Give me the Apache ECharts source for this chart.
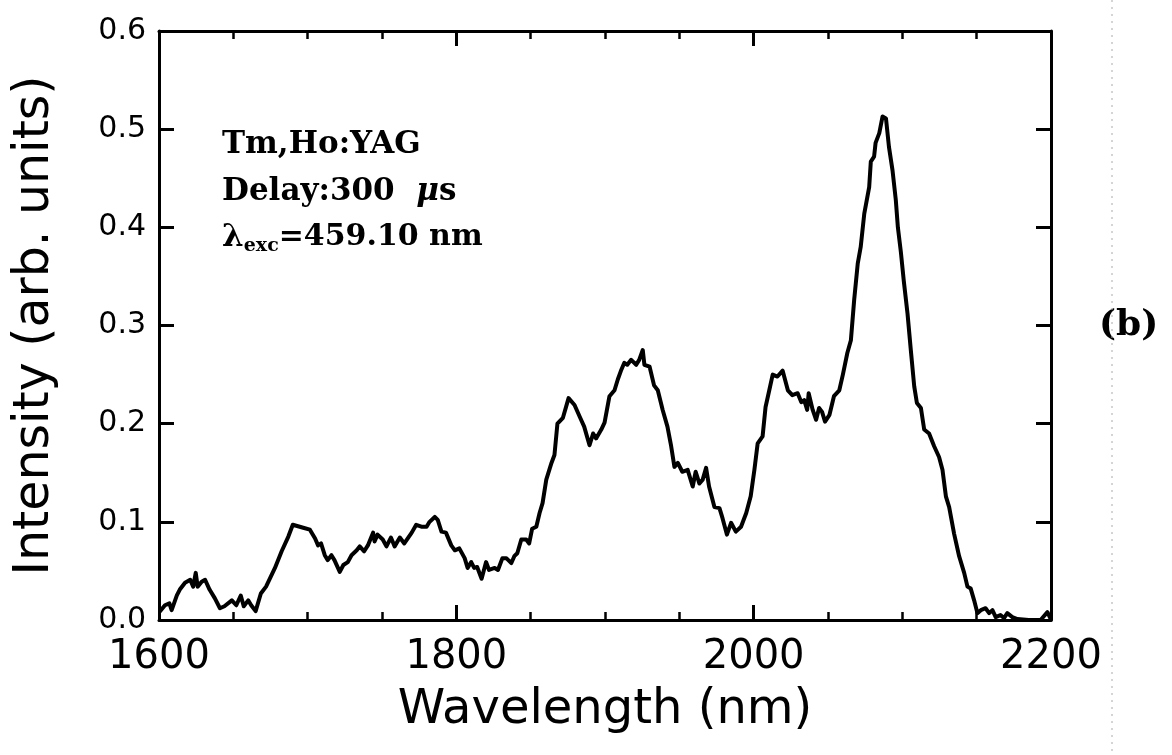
<!DOCTYPE html>
<html>
<head>
<meta charset="utf-8">
<script src="https://cdn.jsdelivr.net/npm/echarts@6/dist/echarts.min.js"></script>
<style>
  html, body { margin: 0; padding: 0; background: #fff; }
  #chart { width: 1172px; height: 755px; }
</style>
</head>
<body>
<div id="chart"></div>
<script>
// Wavelength (nm) samples
const wavelength = [
  1600.7,1604,1607,1608.5,1612,1614,1617.5,1621,1623,1624.7,1626,1628.7,1631,1634,1637.6,1641,1644,1649,1652,1655,1657,1660,1662,1665,1668.5,1672,1678,1682.5,1687,1690,
  1697,1701.5,1705,1707,1709,1711.5,1713.5,1716,1718,1721.6,1724,1727,1729.5,1733,1735,1738,1740.5,1744,1745,1747,1750.5,1753,1756,1758.5,1762,1765,1770,1773,1776.5,1780,
  1782,1785.5,1787.5,1790,1793,1796.6,1799,1802,1805.6,1807.6,1810,1812,1814,1817,1820,1822,1825.8,1828,1831,1833.6,1837,1839,1841,1843.7,1847,1849,1851,1853.8,1856,1858,
  1860.5,1864,1866,1868,1871.7,1875.5,1879.5,1883,1886,1889.6,1892,1894,1897.5,1899.7,1903,1906.4,1908.6,1911,1913,1915,1917.6,1921,1923,1925.4,1926.5,1930,1933,1935.5,
  1938.8,1942,1944.5,1946.7,1949,1952,1955.6,1959,1961,1963.5,1965.7,1968,1970,1973.6,1977,1979,1982,1984.8,1988,1991.5,1995,1998,2000.5,2002.7,2006,2008,2010.5,2012.8,
  2016,2019.5,2023,2026,2029.6,2032,2034,2036,2037,2039.7,2042,2044,2046,2048,2051,2054,2057.6,2060,2063,2065.4,2067.6,2070,2072,2074.4,2077.7,2078.8,2081,2082,2084.5,2086.7,
  2089,2091,2093.4,2095.6,2097,2099,2101,2103.5,2105.7,2108,2109.8,2112.5,2114.7,2118,2121.4,2124.7,2127,2129.3,2131.5,2134.8,2138.2,2141.6,2143.8,2146,2148.3,2150.5,2152.8,2156,
  2158.4,2160.6,2162.8,2166,2168.4,2170.6,2174,2177.4,2185,2193,2197.6,2199.5
];
// Intensity (arb. units)
const intensity = [
  0.009,0.015,0.017,0.010,0.025,0.031,0.038,0.041,0.034,0.048,0.034,0.039,0.041,0.031,0.022,0.012,0.014,0.020,0.015,0.025,0.014,0.020,0.015,0.009,0.027,0.034,0.053,0.070,0.085,0.097,
  0.094,0.092,0.083,0.076,0.078,0.066,0.061,0.066,0.061,0.049,0.056,0.059,0.066,0.071,0.075,0.070,0.076,0.089,0.080,0.087,0.082,0.075,0.084,0.075,0.084,0.078,0.089,0.097,0.095,0.095,
  0.100,0.105,0.102,0.090,0.089,0.076,0.071,0.073,0.063,0.053,0.059,0.053,0.054,0.042,0.059,0.051,0.053,0.051,0.063,0.063,0.058,0.065,0.068,0.082,0.082,0.078,0.093,0.095,0.109,0.119,
  0.143,0.160,0.168,0.200,0.206,0.226,0.219,0.207,0.197,0.178,0.190,0.185,0.194,0.201,0.228,0.234,0.245,0.255,0.262,0.260,0.265,0.260,0.265,0.275,0.260,0.258,0.239,0.234,
  0.214,0.197,0.177,0.156,0.160,0.151,0.153,0.136,0.151,0.139,0.143,0.155,0.136,0.115,0.114,0.104,0.087,0.099,0.090,0.095,0.109,0.126,0.153,0.180,0.187,0.217,0.234,0.250,
  0.248,0.254,0.234,0.229,0.231,0.222,0.224,0.214,0.231,0.214,0.204,0.216,0.212,0.202,0.209,0.228,0.234,0.250,0.272,0.285,0.326,0.363,0.380,0.414,0.441,0.467,0.472,0.486,0.496,0.513,
  0.511,0.482,0.458,0.428,0.400,0.375,0.345,0.312,0.275,0.238,0.221,0.216,0.194,0.190,0.177,0.166,0.153,0.126,0.115,0.088,0.065,0.048,0.034,0.032,0.020,0.007,0.010,0.012,
  0.007,0.010,0.003,0.005,0.002,0.007,0.003,0.001,0.000,0.000,0.008,0.002
];
const xTicks = [1600, 1800, 2000, 2200];
const yTicks = [0.0, 0.1, 0.2, 0.3, 0.4, 0.5, 0.6];
const xTitle = 'Wavelength (nm)';
const yTitle = 'Intensity (arb. units)';
const annotationLines = ['Tm,Ho:YAG', 'Delay:300 ', 'exc', '=459.10 nm'];
const panelLabel = '(b)';

const chart = echarts.init(document.getElementById('chart'), null, { renderer: 'canvas' });
const pairs = wavelength.map((w, i) => [w, intensity[i]]);

const axisFont = 'DejaVu Sans';
const serif = 'DejaVu Serif';
const baseX = {
  type: 'value', min: xTicks[0], max: xTicks[xTicks.length - 1], interval: xTicks[1] - xTicks[0],
  axisLine: { show: true, onZero: false, lineStyle: { color: '#000', width: 3 } },
  axisTick: { show: true, inside: true, length: 15, lineStyle: { color: '#000', width: 3 } },
  minorTick: { show: true, splitNumber: 4, length: 8, lineStyle: { color: '#000', width: 2.5 } },
  splitLine: { show: false }
};
const baseY = {
  type: 'value', min: yTicks[0], max: yTicks[yTicks.length - 1], interval: yTicks[1] - yTicks[0],
  axisLine: { show: true, onZero: false, lineStyle: { color: '#000', width: 3 } },
  axisTick: { show: true, inside: true, length: 15, lineStyle: { color: '#000', width: 3 } },
  splitLine: { show: false }
};

chart.setOption({
  animation: false,
  backgroundColor: '#fff',
  grid: { left: 159, right: 121, top: 31, bottom: 135, containLabel: false },
  xAxis: [
    Object.assign({}, baseX, {
      position: 'bottom',
      name: xTitle, nameLocation: 'middle', nameGap: 67,
      nameTextStyle: { fontFamily: axisFont, fontSize: 48, color: '#000' },
      axisLabel: { show: true, margin: 18, fontFamily: axisFont, fontSize: 40, color: '#000',
        formatter: v => String(v) }
    }),
    Object.assign({}, baseX, { position: 'top', axisLabel: { show: false } })
  ],
  yAxis: [
    Object.assign({}, baseY, {
      position: 'left',
      name: yTitle, nameLocation: 'middle', nameGap: 99,
      nameTextStyle: { fontFamily: axisFont, fontSize: 49, color: '#000' },
      axisLabel: { show: true, margin: 13, fontFamily: axisFont, fontSize: 30, color: '#000',
        formatter: v => v.toFixed(1) }
    }),
    Object.assign({}, baseY, { position: 'right', axisLabel: { show: false } })
  ],
  series: [{
    type: 'line', data: pairs, xAxisIndex: 0, yAxisIndex: 0,
    showSymbol: false, symbol: 'none', smooth: false, clip: true,
    lineStyle: { color: '#000', width: 4, join: 'round', cap: 'round' }
  }],
  graphic: [
    { type: 'text', left: 222, top: 129, style: { text: annotationLines[0], font: 'bold 31px "' + serif + '"', fill: '#000' } },
    { type: 'text', left: 222, top: 176, style: {
        text: '{a|' + annotationLines[1] + ' }{m|μ}{a|s}',
        rich: {
          a: { fontFamily: serif, fontWeight: 'bold', fontSize: 31, color: '#000' },
          m: { fontFamily: serif, fontWeight: 'bold', fontStyle: 'italic', fontSize: 31, color: '#000' }
        } } },
    { type: 'text', left: 222, top: 222, style: {
        text: '{l|λ}{s|' + annotationLines[2] + '}{a|' + annotationLines[3] + '}',
        rich: {
          l: { fontFamily: serif, fontWeight: 'bold', fontSize: 31, color: '#000' },
          s: { fontFamily: serif, fontWeight: 'bold', fontSize: 19, color: '#000', padding: [18, 0, 0, 0] },
          a: { fontFamily: serif, fontWeight: 'bold', fontSize: 30, color: '#000' }
        } } },
    { type: 'text', left: 1099, top: 308, style: { text: panelLabel, font: 'bold 36px "' + serif + '"', fill: '#000' } },
    { type: 'line', shape: { x1: 1112, y1: 0, x2: 1112, y2: 755 }, style: { stroke: '#aaa', lineWidth: 1, lineDash: [2, 5] } }
  ]
});
</script>
</body>
</html>
